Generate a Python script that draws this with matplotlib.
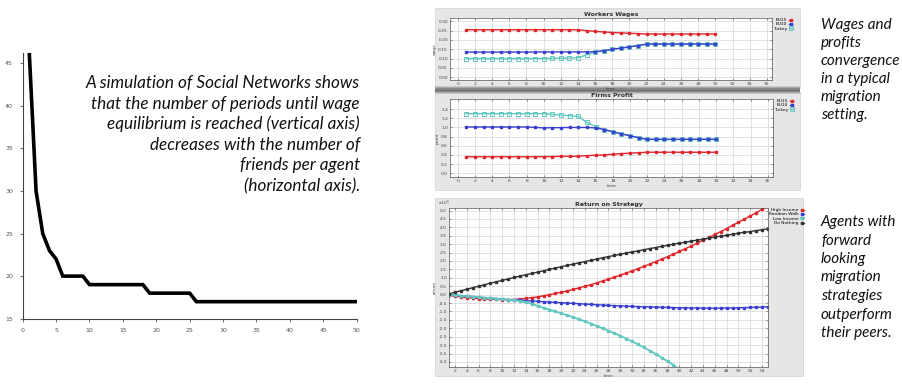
import matplotlib.pyplot as plt
from matplotlib.patches import Rectangle

W, H = 903, 385


def box(l, t, r, b):
    # pixel box (from top-left) -> figure fraction rect
    return [l / W, 1 - b / H, (r - l) / W, (b - t) / H]


# --- left chart: periods until wage equilibrium vs friends per agent
friends = list(range(1, 51))
periods = [46, 30, 25, 23, 22, 20, 20, 20, 20, 19,
           19, 19, 19, 19, 19, 19, 19, 19, 18, 18,
           18, 18, 18, 18, 18, 17, 17, 17, 17, 17,
           17, 17, 17, 17, 17, 17, 17, 17, 17, 17,
           17, 17, 17, 17, 17, 17, 17, 17, 17, 17]

# --- workers wages / firms profit (time 1..30)
t30 = list(range(1, 31))
wage_eu15 = [0.255, 0.255, 0.255, 0.255, 0.255, 0.255, 0.255, 0.255, 0.255, 0.255,
             0.255, 0.255, 0.255, 0.255, 0.250, 0.246, 0.243, 0.240, 0.238, 0.236,
             0.234, 0.232, 0.232, 0.232, 0.232, 0.232, 0.232, 0.232, 0.232, 0.232]
wage_eu10 = [0.135, 0.135, 0.135, 0.135, 0.135, 0.135, 0.135, 0.135, 0.135, 0.136,
             0.136, 0.136, 0.136, 0.136, 0.136, 0.137, 0.142, 0.150, 0.156, 0.163,
             0.170, 0.178, 0.178, 0.178, 0.178, 0.178, 0.178, 0.178, 0.178, 0.178]
wage_tr = [0.100, 0.100, 0.100, 0.100, 0.100, 0.100, 0.100, 0.100, 0.100, 0.100,
           0.102, 0.102, 0.103, 0.104, 0.120, 0.135, 0.142, 0.150, 0.156, 0.163,
           0.170, 0.178, 0.178, 0.178, 0.178, 0.178, 0.178, 0.178, 0.178, 0.178]

prof_eu15 = [0.36, 0.36, 0.36, 0.36, 0.36, 0.36, 0.36, 0.36, 0.36, 0.365,
             0.365, 0.37, 0.37, 0.375, 0.385, 0.395, 0.40, 0.415, 0.43, 0.44,
             0.45, 0.46, 0.46, 0.46, 0.46, 0.46, 0.46, 0.46, 0.46, 0.46]
prof_eu10 = [1.01, 1.01, 1.01, 1.01, 1.01, 1.01, 1.01, 1.01, 1.00, 0.99,
             0.995, 0.995, 1.00, 1.00, 1.00, 0.99, 0.955, 0.905, 0.86, 0.82,
             0.775, 0.74, 0.74, 0.74, 0.74, 0.74, 0.74, 0.74, 0.74, 0.74]
prof_tr = [1.30, 1.30, 1.30, 1.30, 1.30, 1.30, 1.30, 1.30, 1.30, 1.30,
           1.285, 1.27, 1.255, 1.24, 1.11, 1.02, 0.955, 0.905, 0.86, 0.82,
           0.775, 0.74, 0.74, 0.74, 0.74, 0.74, 0.74, 0.74, 0.74, 0.74]

# --- return on strategy (x1e5), time 1..55
t55 = list(range(1, 56))
ret_high = [-0.05, -0.09, -0.13, -0.17, -0.20, -0.23, -0.25, -0.27, -0.28, -0.29,
            -0.30, -0.29, -0.26, -0.22, -0.18, -0.13, -0.07, 0.00, 0.07, 0.14,
            0.22, 0.31, 0.40, 0.50, 0.59, 0.70, 0.81, 0.92, 1.04, 1.16,
            1.29, 1.41, 1.55, 1.68, 1.82, 1.97, 2.11, 2.26, 2.41, 2.57,
            2.73, 2.89, 3.06, 3.23, 3.40, 3.58, 3.75, 3.93, 4.12, 4.30,
            4.49, 4.68, 4.87, 5.07, 5.27]
ret_walk = [0.00, -0.03, -0.06, -0.09, -0.12, -0.15, -0.18, -0.21, -0.24, -0.27,
            -0.29, -0.31, -0.33, -0.35, -0.37, -0.39, -0.42, -0.44, -0.46, -0.48,
            -0.50, -0.52, -0.54, -0.56, -0.58, -0.60, -0.62, -0.64, -0.65, -0.67,
            -0.68, -0.70, -0.71, -0.72, -0.73, -0.74, -0.75, -0.76, -0.77, -0.78,
            -0.78, -0.79, -0.79, -0.80, -0.80, -0.80, -0.80, -0.79, -0.79, -0.78,
            -0.77, -0.76, -0.75, -0.74, -0.72]
t40 = list(range(1, 41))
ret_low = [0.00, -0.03, -0.06, -0.09, -0.12, -0.15, -0.18, -0.21, -0.24, -0.27,
           -0.30, -0.33, -0.38, -0.45, -0.55, -0.66, -0.78, -0.89, -1.00, -1.11,
           -1.22, -1.34, -1.46, -1.59, -1.72, -1.86, -2.00, -2.14, -2.29, -2.45,
           -2.61, -2.78, -2.96, -3.14, -3.33, -3.53, -3.74, -3.96, -4.19, -4.43]
ret_none = [0.05, 0.14, 0.23, 0.32, 0.41, 0.50, 0.59, 0.68, 0.76, 0.85,
            0.93, 1.02, 1.10, 1.18, 1.26, 1.34, 1.42, 1.50, 1.58, 1.66,
            1.74, 1.81, 1.89, 1.96, 2.04, 2.11, 2.19, 2.26, 2.33, 2.40,
            2.47, 2.54, 2.60, 2.67, 2.74, 2.80, 2.87, 2.93, 3.00, 3.06,
            3.12, 3.18, 3.24, 3.30, 3.36, 3.42, 3.48, 3.53, 3.59, 3.65,
            3.70, 3.75, 3.81, 3.86, 3.91]

RED = '#e0262b'
BLUE = '#3a3fcf'
CYAN = '#62c7bf'
BLACK = '#333333'

fig = plt.figure(figsize=(W / 100, H / 100), dpi=100)
fig.patch.set_facecolor('white')

# ---------------- left chart
ax = fig.add_axes(box(22.7, 53, 356.7, 318.7))
ax.plot(friends, periods, color='black', lw=2.6, solid_joinstyle='miter')
ax.set_xlim(0, 50)
ax.set_ylim(15, 46.2)
ax.set_xticks(range(0, 51, 5))
ax.set_yticks(range(15, 46, 5))
for s in ['top', 'right']:
    ax.spines[s].set_visible(False)
for s in ['left', 'bottom']:
    ax.spines[s].set_color('#444444')
    ax.spines[s].set_linewidth(0.8)
ax.tick_params(labelsize=4.5, colors='#555555', length=2, width=0.6,
               direction='out', pad=5)

left_lines = ["A simulation of Social Networks shows",
              "that the number of periods until wage",
              "equilibrium is reached (vertical axis)",
              "decreases with the number of",
              "friends per agent",
              "(horizontal axis)."]
for i, line in enumerate(left_lines):
    fig.text(360 / W, 1 - (83 + 20.6 * i) / H, line, ha='right', va='center',
             family='Lato', style='italic', fontsize=12.3, color='#111111')

# ---------------- grey panels behind the right-hand charts
for (l, t, r, b) in [(435, 8, 800, 88), (435, 92, 800, 190), (435, 198, 803, 376)]:
    fig.patches.append(Rectangle((l / W, 1 - b / H), (r - l) / W, (b - t) / H,
                                 transform=fig.transFigure, facecolor='#e6e6e6',
                                 edgecolor='#d0d0d0', lw=0.5, zorder=-2))
# shadow between the two top panels
for k, c in enumerate(['#c8c8c8', '#a8a8a8', '#888888', '#6e6e6e', '#888888', '#a8a8a8', '#c8c8c8']):
    y0 = 86 + k * 1.2
    fig.patches.append(Rectangle((435 / W, 1 - (y0 + 1.2) / H), 365 / W, 1.2 / H,
                                 transform=fig.transFigure, facecolor=c,
                                 edgecolor='none', zorder=-1))


def style_small(a, title, ylabel):
    a.set_zorder(2)
    a.set_facecolor('white')
    a.grid(True, color='#d4d4d4', lw=0.5)
    a.set_axisbelow(True)
    a.tick_params(labelsize=3.2, length=1.5, width=0.4, direction='in',
                  top=True, right=True, pad=1.5, colors='#444444')
    for s in a.spines.values():
        s.set_linewidth(0.5)
        s.set_color('#555555')
    a.set_title(title, fontsize=4.5, fontweight='bold', pad=1.5, color='#333333')
    a.set_xlabel('time', fontsize=3.2, labelpad=0.5, color='#444444')
    a.set_ylabel(ylabel, fontsize=3.2, labelpad=1, color='#444444')


def small_legend(a, handles, names):
    a.legend(handles, names, loc='upper left', bbox_to_anchor=(1.003, 1.0),
             fontsize=3.2, frameon=False, markerfirst=False,
             handlelength=0.6, handletextpad=0.5, labelspacing=0.05,
             borderaxespad=0, borderpad=0)


# ---------------- workers wages
axw = fig.add_axes(box(450, 18, 772, 80))
lt = axw.plot(t30, wage_tr, color=CYAN, lw=1.0, marker='s', ms=2.4,
              mfc='none', mec=CYAN, mew=0.7)[0]
lb = axw.plot(t30, wage_eu10, color=BLUE, lw=1.0, marker='s', ms=2.0)[0]
lr = axw.plot(t30, wage_eu15, color=RED, lw=1.0, marker='s', ms=2.0)[0]
axw.set_xlim(-0.9, 36.6)
axw.set_ylim(-0.015, 0.318)
axw.set_xticks(range(0, 37, 2))
axw.set_yticks([0.00, 0.05, 0.10, 0.15, 0.20, 0.25, 0.30])
axw.yaxis.set_major_formatter(plt.FormatStrFormatter('%.2f'))
style_small(axw, 'Workers Wages', 'wage')
small_legend(axw, [lr, lb, lt], ['EU15', 'EU10', 'Turkey'])

# ---------------- firms profit
axp = fig.add_axes(box(450, 99, 773, 177))
lt = axp.plot(t30, prof_tr, color=CYAN, lw=1.0, marker='s', ms=2.4,
              mfc='none', mec=CYAN, mew=0.7)[0]
lb = axp.plot(t30, prof_eu10, color=BLUE, lw=1.0, marker='s', ms=2.0)[0]
lr = axp.plot(t30, prof_eu15, color=RED, lw=1.0, marker='s', ms=2.0)[0]
axp.set_xlim(-0.9, 36.6)
axp.set_ylim(-0.08, 1.62)
axp.set_xticks(range(0, 37, 2))
axp.set_yticks([0.0, 0.2, 0.4, 0.6, 0.8, 1.0, 1.2, 1.4])
axp.yaxis.set_major_formatter(plt.FormatStrFormatter('%.1f'))
style_small(axp, 'Firms Profit', 'profit')
small_legend(axp, [lr, lb, lt], ['EU15', 'EU10', 'Turkey'])

# ---------------- return on strategy
axr = fig.add_axes(box(449, 208, 768, 367))
h1 = axr.plot(t55, ret_high, color=RED, lw=1.0, marker='s', ms=1.6)[0]
h2 = axr.plot(t55, ret_walk, color=BLUE, lw=1.0, marker='s', ms=1.6)[0]
h3 = axr.plot(t40, ret_low, color=CYAN, lw=1.3, marker='s', ms=1.8)[0]
h4 = axr.plot(t55, ret_none, color=BLACK, lw=1.0, marker='s', ms=1.6)[0]
axr.set_xlim(1, 55)
axr.set_ylim(-4.3, 5.15)
axr.set_xticks(range(2, 55, 2))
axr.set_yticks([v / 2 for v in range(-8, 11)])
axr.yaxis.set_major_formatter(plt.FormatStrFormatter('%.1f'))
style_small(axr, 'Return on Strategy', 'return')
axr.text(-0.035, 1.0, r'x10$^5$', transform=axr.transAxes, fontsize=3.2,
         ha='left', va='bottom', color='#444444')
small_legend(axr, [h1, h2, h3, h4],
             ['High Income', 'Random Walk', 'Low Income', 'Do Nothing'])

# ---------------- right-hand captions
cap1 = ["Wages and", "profits", "convergence", "in a typical", "migration", "setting."]
for i, line in enumerate(cap1):
    fig.text(821 / W, 1 - (25 + 17.9 * i) / H, line, ha='left', va='center',
             family='Lato', style='italic', fontsize=11, color='#111111')
cap2 = ["Agents with", "forward", "looking", "migration", "strategies",
        "outperform", "their peers."]
for i, line in enumerate(cap2):
    fig.text(821 / W, 1 - (222 + 18.5 * i) / H, line, ha='left', va='center',
             family='Lato', style='italic', fontsize=11, color='#111111')

fig.savefig('out.png', dpi=100)
